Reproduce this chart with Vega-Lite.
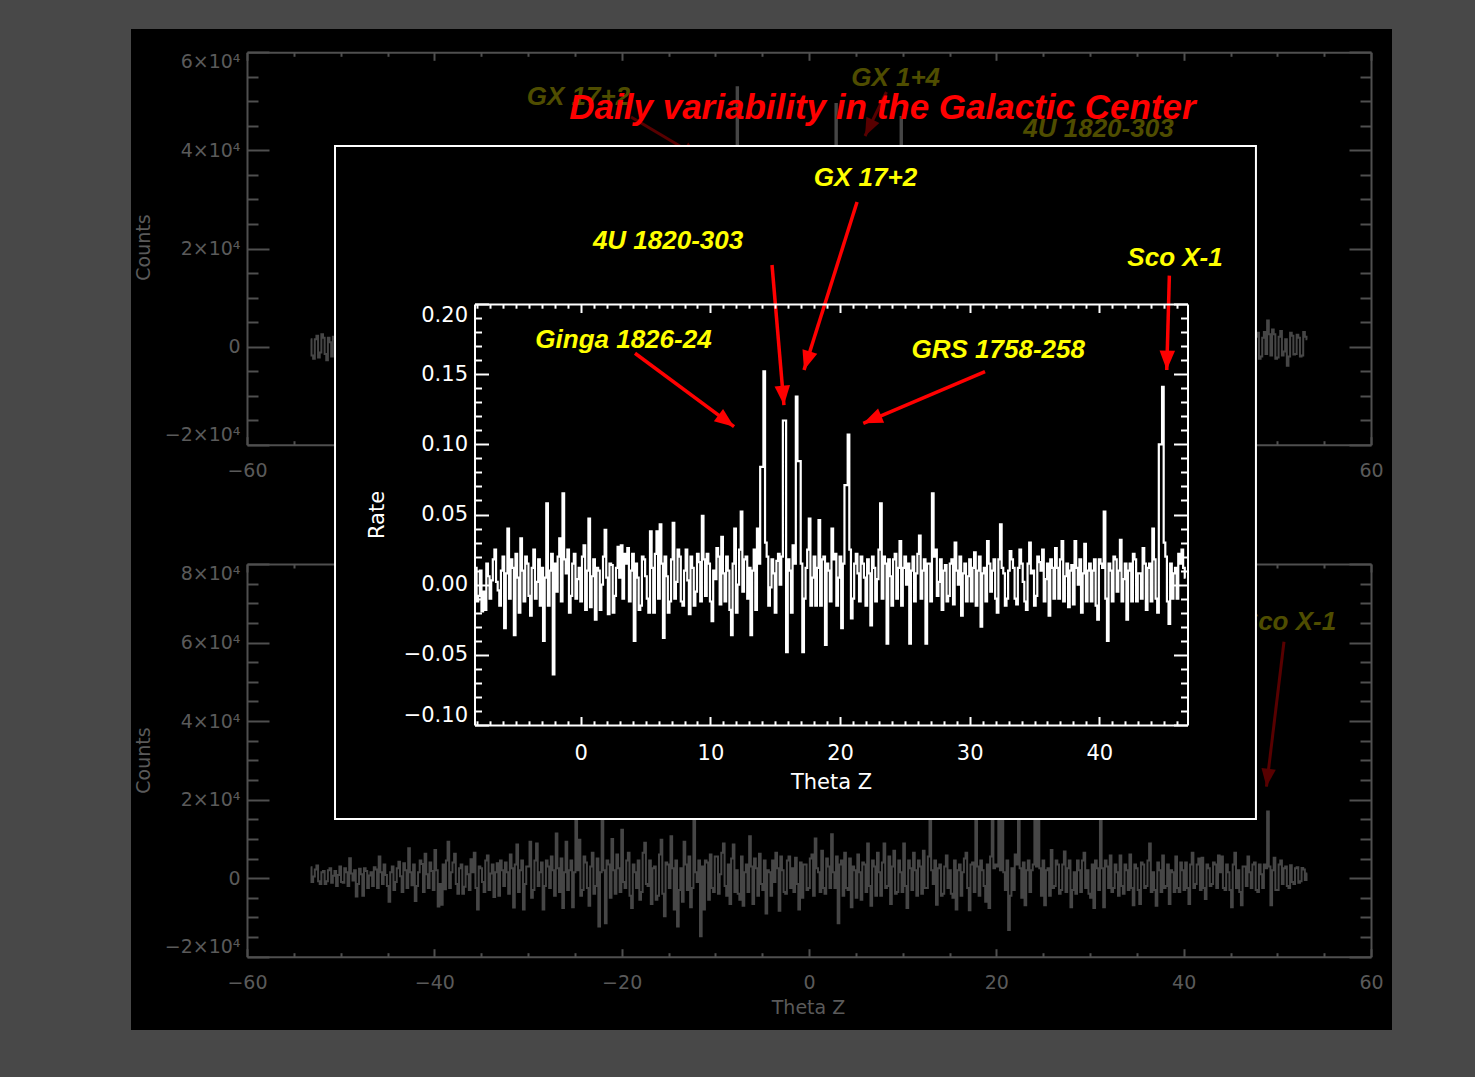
{
  "$schema": "https://vega.github.io/schema/vega-lite/v6.json",
  "width": 1261,
  "height": 1001,
  "autosize": {"type": "none"},
  "padding": {"left": 131, "top": 29, "right": 83, "bottom": 47},
  "background": "#484848",
  "config": {
    "view": {"fill": "#000000", "stroke": null},
    "axis": {"grid": false, "labelOverlap": false, "labelBound": false}
  },
  "datasets": {
    "upper": [
      {"t":-53.2,"c":1500},{"t":-52.85,"c":-2500},{"t":-52.5,"c":2200},{"t":-52.15,"c":-1200},{"t":-51.8,"c":1800},{"t":-51.45,"c":-2800},{"t":-51.1,"c":900},{"t":-50.75,"c":2000},{"t":-50.4,"c":-1500},
      {"t":-53.025,"c":-1800},{"t":-52.675,"c":1500},{"t":-52.325,"c":-2200},{"t":-51.975,"c":2500},{"t":-51.625,"c":-1500},{"t":-51.275,"c":1800},{"t":-50.925,"c":-2000},{"t":-50.575,"c":1500},
      {"t":-45,"c":800},{"t":-38,"c":-1200},{"t":-30,"c":1500},{"t":-20,"c":-2000},{"t":-12,"c":1000},{"t":-7.8,"c":-500},{"t":-7.65,"c":52860},{"t":-7.5,"c":800},{"t":-2,"c":-1500},
      {"t":2.75,"c":600},{"t":2.9,"c":49460},{"t":3.05,"c":-800},{"t":6,"c":1200},{"t":9.7,"c":-600},{"t":9.85,"c":46810},{"t":10,"c":900},{"t":15,"c":-1500},{"t":20,"c":2000},{"t":25,"c":-1000},{"t":30,"c":1200},{"t":35,"c":-800},{"t":40,"c":1500},{"t":45,"c":-1000},
      {"t":47.6,"c":-1500},{"t":47.95,"c":2800},{"t":48.3,"c":-2000},{"t":48.65,"c":3000},{"t":49.0,"c":5300},{"t":49.35,"c":-1800},{"t":49.7,"c":2500},{"t":50.05,"c":-2200},{"t":50.4,"c":3200},{"t":50.75,"c":-1000},
      {"t":51.1,"c":-3900},{"t":51.45,"c":2800},{"t":51.8,"c":-1600},{"t":52.15,"c":2400},{"t":52.5,"c":-2000},{"t":52.85,"c":3000},{"t":53.2,"c":1500},
      {"t":47.775,"c":2000},{"t":48.125,"c":-2500},{"t":48.475,"c":1800},{"t":48.825,"c":-1500},{"t":49.175,"c":2500},{"t":49.525,"c":3500},{"t":49.875,"c":-2500},{"t":50.225,"c":2000},
      {"t":50.575,"c":-1800},{"t":50.925,"c":1500},{"t":51.275,"c":-2000},{"t":51.625,"c":2200},{"t":51.975,"c":-1500},{"t":52.325,"c":1800},{"t":52.675,"c":-1800},{"t":53.025,"c":2000}
    ],
    "upperLabels": [
      {"t":-24.61,"c":49260,"label":"GX 17+2"},
      {"t":9.25,"c":53190,"label":"GX 1+4"},
      {"t":30.9,"c":42730,"label":"4U 1820-303"}
    ],
    "upperArrows": [
      {"t":-19.0,"c":46810,"t2":-11.64,"c2":38450},
      {"t":8.27,"c":51900,"t2":5.98,"c2":42930}
    ],
    "lower": [
      {"t":-53.2,"c":2800},{"t":-52.85,"c":400},{"t":-52.5,"c":3200},{"t":-52.15,"c":-1500},{"t":-51.8,"c":1800},{"t":-51.45,"c":-800},{"t":-51.1,"c":2500},{"t":-50.75,"c":600},{"t":-50.4,"c":-2000},{"t":-50.05,"c":3000},
      {"t":-49.7,"c":-1200},{"t":-49.35,"c":1500},{"t":-49.0,"c":5100},{"t":-48.65,"c":-600},{"t":-48.3,"c":-4700},{"t":-47.95,"c":2400},{"t":-47.6,"c":-4500},{"t":-47.25,"c":1800},{"t":-46.9,"c":700},{"t":-46.55,"c":-2000},
      {"t":-46.2,"c":2200},{"t":-45.85,"c":5500},{"t":-45.5,"c":-1500},{"t":-45.15,"c":800},{"t":-44.8,"c":-6000},{"t":-44.45,"c":3000},{"t":-44.1,"c":-1000},{"t":-43.75,"c":4200},{"t":-43.4,"c":-3500},{"t":-43.05,"c":2000},
      {"t":-42.7,"c":7600},{"t":-42.35,"c":-1800},{"t":-42.0,"c":-5800},{"t":-41.65,"c":1500},{"t":-41.3,"c":3600},{"t":-40.95,"c":6200},{"t":-40.6,"c":-2500},{"t":-40.25,"c":1800},{"t":-39.9,"c":7200},{"t":-39.55,"c":-7200},
      {"t":-39.2,"c":-6800},{"t":-38.85,"c":-2800},{"t":-38.5,"c":9300},{"t":-38.15,"c":1500},{"t":-37.8,"c":6200},{"t":-37.45,"c":-4000},{"t":-37.1,"c":3500},{"t":-36.75,"c":-2200},{"t":-36.4,"c":1000},{"t":-36.05,"c":4800},
      {"t":-35.7,"c":6500},{"t":-35.35,"c":-8000},{"t":-35.0,"c":2500},{"t":-34.65,"c":-3500},{"t":-34.3,"c":5800},{"t":-33.95,"c":1200},{"t":-33.6,"c":-4800},{"t":-33.25,"c":3800},{"t":-32.9,"c":4500},{"t":-32.55,"c":-2000},
      {"t":-32.2,"c":1500},{"t":-31.85,"c":6000},{"t":-31.5,"c":-7500},{"t":-31.15,"c":8600},{"t":-30.8,"c":2000},{"t":-30.45,"c":-8000},{"t":-30.1,"c":3000},{"t":-29.75,"c":9300},{"t":-29.4,"c":-3000},{"t":-29.05,"c":8800},
      {"t":-28.7,"c":1500},{"t":-28.35,"c":-8000},{"t":-28.0,"c":4500},{"t":-27.65,"c":-2500},{"t":-27.3,"c":2000},{"t":-26.95,"c":11400},{"t":-26.6,"c":-3500},{"t":-26.25,"c":-7600},{"t":-25.9,"c":9300},{"t":-25.55,"c":2000},
      {"t":-25.2,"c":-7400},{"t":-24.85,"c":25000},{"t":-24.5,"c":9800},{"t":-24.15,"c":-3000},{"t":-23.8,"c":4000},{"t":-23.45,"c":-7000},{"t":-23.1,"c":6500},{"t":-22.75,"c":-2000},{"t":-22.4,"c":-12300},{"t":-22.05,"c":24000},
      {"t":-21.7,"c":-11500},{"t":-21.35,"c":3500},{"t":-21.0,"c":10000},{"t":-20.65,"c":-4000},{"t":-20.3,"c":2500},{"t":-19.95,"c":12300},{"t":-19.6,"c":-2500},{"t":-19.25,"c":6500},{"t":-18.9,"c":-7600},{"t":-18.55,"c":1500},
      {"t":-18.2,"c":4500},{"t":-17.85,"c":-3500},{"t":-17.5,"c":9000},{"t":-17.15,"c":-2000},{"t":-16.8,"c":-6600},{"t":-16.45,"c":3000},{"t":-16.1,"c":-4500},{"t":-15.75,"c":9800},{"t":-15.4,"c":-9700},{"t":-15.05,"c":3500},
      {"t":-14.7,"c":10700},{"t":-14.35,"c":-8000},{"t":-14.0,"c":-12300},{"t":-13.65,"c":2500},{"t":-13.3,"c":9300},{"t":-12.95,"c":-3000},{"t":-12.6,"c":-7400},{"t":-12.25,"c":20000},{"t":-11.9,"c":-1000},{"t":-11.55,"c":-14800},
      {"t":-11.2,"c":-8000},{"t":-10.85,"c":4000},{"t":-10.5,"c":6000},{"t":-10.15,"c":-3500},{"t":-9.8,"c":5500},{"t":-9.45,"c":1000},{"t":-9.1,"c":8800},{"t":-8.75,"c":-4500},{"t":-8.4,"c":-6600},{"t":-8.05,"c":8600},
      {"t":-7.7,"c":2000},{"t":-7.35,"c":-5500},{"t":-7.0,"c":-7000},{"t":-6.65,"c":3500},{"t":-6.3,"c":10700},{"t":-5.95,"c":-6600},{"t":-5.6,"c":2500},{"t":-5.25,"c":6200},{"t":-4.9,"c":-3000},{"t":-4.55,"c":-9000},
      {"t":-4.2,"c":1500},{"t":-3.85,"c":4500},{"t":-3.5,"c":6500},{"t":-3.15,"c":-8300},{"t":-2.8,"c":2000},{"t":-2.45,"c":-4000},{"t":-2.1,"c":5500},{"t":-1.75,"c":2500},{"t":-1.4,"c":5200},{"t":-1.05,"c":-8000},
      {"t":-0.7,"c":-5000},{"t":-0.35,"c":3500},{"t":0.0,"c":-2500},{"t":0.35,"c":6000},{"t":0.7,"c":10100},{"t":1.05,"c":1500},{"t":1.4,"c":7000},{"t":1.75,"c":-4000},{"t":2.1,"c":3000},{"t":2.45,"c":11200},
      {"t":2.8,"c":-2500},{"t":3.15,"c":-11500},{"t":3.5,"c":4500},{"t":3.85,"c":6500},{"t":4.2,"c":-3000},{"t":4.55,"c":-7400},{"t":4.9,"c":2000},{"t":5.25,"c":6000},{"t":5.6,"c":-5500},{"t":5.95,"c":3500},
      {"t":6.3,"c":8800},{"t":6.65,"c":-7000},{"t":7.0,"c":3000},{"t":7.35,"c":6500},{"t":7.7,"c":-4500},{"t":8.05,"c":8800},{"t":8.4,"c":-2000},{"t":8.75,"c":-6600},{"t":9.1,"c":7000},{"t":9.45,"c":-3500},
      {"t":9.8,"c":1500},{"t":10.15,"c":8800},{"t":10.5,"c":-7600},{"t":10.85,"c":2500},{"t":11.2,"c":6500},{"t":11.55,"c":-4500},{"t":11.9,"c":3000},{"t":12.25,"c":7000},{"t":12.6,"c":-2500},{"t":12.95,"c":14700},
      {"t":13.3,"c":-1500},{"t":13.65,"c":-6800},{"t":14.0,"c":3500},{"t":14.35,"c":-4000},{"t":14.7,"c":5800},{"t":15.05,"c":2000},{"t":15.4,"c":-5000},{"t":15.75,"c":-8000},{"t":16.1,"c":3500},{"t":16.45,"c":1500},
      {"t":16.8,"c":6500},{"t":17.15,"c":-8200},{"t":17.5,"c":4000},{"t":17.85,"c":25000},{"t":18.2,"c":-4500},{"t":18.55,"c":2000},{"t":18.9,"c":-6000},{"t":19.25,"c":-7600},{"t":19.6,"c":22000},{"t":19.95,"c":3500},
      {"t":20.3,"c":24000},{"t":20.65,"c":26000},{"t":21.0,"c":-3000},{"t":21.35,"c":-13200},{"t":21.7,"c":2500},{"t":22.05,"c":6000},{"t":22.4,"c":20000},{"t":22.75,"c":-5000},{"t":23.1,"c":-6900},{"t":23.45,"c":4500},
      {"t":23.8,"c":2000},{"t":24.15,"c":22000},{"t":24.5,"c":18000},{"t":24.85,"c":-4500},{"t":25.2,"c":-6900},{"t":25.55,"c":2500},{"t":25.9,"c":7200},{"t":26.25,"c":-2000},{"t":26.6,"c":3500},{"t":26.95,"c":-3000},
      {"t":27.3,"c":6800},{"t":27.65,"c":2500},{"t":28.0,"c":-7400},{"t":28.35,"c":1500},{"t":28.7,"c":4500},{"t":29.05,"c":-3500},{"t":29.4,"c":6500},{"t":29.75,"c":2000},{"t":30.1,"c":-5000},{"t":30.45,"c":-7600},
      {"t":30.8,"c":2500},{"t":31.15,"c":15000},{"t":31.5,"c":-7400},{"t":31.85,"c":3000},{"t":32.2,"c":5800},{"t":32.55,"c":-2500},{"t":32.9,"c":1500},{"t":33.25,"c":5800},{"t":33.6,"c":-4000},{"t":33.95,"c":2000},
      {"t":34.3,"c":6000},{"t":34.65,"c":-6900},{"t":35.0,"c":2500},{"t":35.35,"c":-6600},{"t":35.7,"c":3500},{"t":36.05,"c":-2000},{"t":36.4,"c":8800},{"t":36.75,"c":1500},{"t":37.1,"c":-7000},{"t":37.45,"c":2000},
      {"t":37.8,"c":5800},{"t":38.15,"c":-2000},{"t":38.5,"c":-6600},{"t":38.85,"c":1500},{"t":39.2,"c":5500},{"t":39.55,"c":-3500},{"t":39.9,"c":2000},{"t":40.25,"c":4000},{"t":40.6,"c":-6600},{"t":40.95,"c":6500},
      {"t":41.3,"c":-1500},{"t":41.65,"c":5000},{"t":42.0,"c":5200},{"t":42.35,"c":-5300},{"t":42.7,"c":2500},{"t":43.05,"c":-1500},{"t":43.4,"c":3500},{"t":43.75,"c":5800},{"t":44.1,"c":5500},{"t":44.45,"c":-3000},
      {"t":44.8,"c":1500},{"t":45.15,"c":-7400},{"t":45.5,"c":6500},{"t":45.85,"c":2000},{"t":46.2,"c":-6900},{"t":46.55,"c":3000},{"t":46.9,"c":5500},{"t":47.25,"c":-2500},{"t":47.6,"c":4000},{"t":47.95,"c":-3500},
      {"t":48.3,"c":1000},{"t":48.65,"c":3500},{"t":49.0,"c":17000},{"t":49.35,"c":-6900},{"t":49.7,"c":5200},{"t":50.05,"c":-3000},{"t":50.4,"c":4500},{"t":50.75,"c":2500},{"t":51.1,"c":-2000},{"t":51.45,"c":3300},
      {"t":51.8,"c":-1500},{"t":52.15,"c":2800},{"t":52.5,"c":-800},{"t":52.85,"c":2200},{"t":53.2,"c":1200},
      {"t":-53.025,"c":-1000},{"t":-52.675,"c":2200},{"t":-52.325,"c":-800},{"t":-51.975,"c":1500},{"t":-51.625,"c":-1500},{"t":-51.275,"c":2000},{"t":-50.925,"c":-1200},{"t":-50.575,"c":1800},{"t":-50.225,"c":800},{"t":-49.875,"c":-1000},
      {"t":-49.525,"c":2500},{"t":-49.175,"c":-2000},{"t":-48.825,"c":1200},{"t":-48.475,"c":2000},{"t":-48.125,"c":-1500},{"t":-47.775,"c":1000},{"t":-47.425,"c":2500},{"t":-47.075,"c":-2500},{"t":-46.725,"c":1500},{"t":-46.375,"c":2800},
      {"t":-46.025,"c":-2500},{"t":-45.675,"c":1500},{"t":-45.325,"c":3500},{"t":-44.975,"c":-2000},{"t":-44.625,"c":1500},{"t":-44.275,"c":-3000},{"t":-43.925,"c":2500},{"t":-43.575,"c":500},{"t":-43.225,"c":3800},{"t":-42.875,"c":-2500},
      {"t":-42.525,"c":1500},{"t":-42.175,"c":3500},{"t":-41.825,"c":-2000},{"t":-41.475,"c":4500},{"t":-41.125,"c":-3500},{"t":-40.775,"c":1000},{"t":-40.425,"c":4000},{"t":-40.075,"c":-3000},{"t":-39.725,"c":2000},{"t":-39.375,"c":-1500},
      {"t":-39.025,"c":3500},{"t":-38.675,"c":4500},{"t":-38.325,"c":-2500},{"t":-37.975,"c":4000},{"t":-37.625,"c":-1500},{"t":-37.275,"c":2500},{"t":-36.925,"c":-4000},{"t":-36.575,"c":3000},{"t":-36.225,"c":-3000},{"t":-35.875,"c":1500},
      {"t":-35.525,"c":-2500},{"t":-35.175,"c":3000},{"t":-34.825,"c":-1000},{"t":-34.475,"c":4500},{"t":-34.125,"c":-3000},{"t":-33.775,"c":3500},{"t":-33.425,"c":1500},{"t":-33.075,"c":-4500},{"t":-32.725,"c":2000},{"t":-32.375,"c":4000},
      {"t":-32.025,"c":-4000},{"t":-31.675,"c":2500},{"t":-31.325,"c":3500},{"t":-30.975,"c":-3500},{"t":-30.625,"c":4500},{"t":-30.275,"c":-1500},{"t":-29.925,"c":3000},{"t":-29.575,"c":-5000},{"t":-29.225,"c":4500},{"t":-28.875,"c":-2000},
      {"t":-28.525,"c":4000},{"t":-28.175,"c":-2000},{"t":-27.825,"c":3000},{"t":-27.475,"c":5500},{"t":-27.125,"c":-4500},{"t":-26.775,"c":2500},{"t":-26.425,"c":5000},{"t":-26.075,"c":1500},{"t":-25.725,"c":-3000},{"t":-25.375,"c":4500},
      {"t":-25.025,"c":1500},{"t":-24.675,"c":2000},{"t":-24.325,"c":-4500},{"t":-23.975,"c":5500},{"t":-23.625,"c":-2500},{"t":-23.275,"c":3000},{"t":-22.925,"c":-4000},{"t":-22.575,"c":5000},{"t":-22.225,"c":1500},{"t":-21.875,"c":2000},
      {"t":-21.525,"c":4500},{"t":-21.175,"c":-5000},{"t":-20.825,"c":2000},{"t":-20.475,"c":6000},{"t":-20.125,"c":-3500},{"t":-19.775,"c":-1000},{"t":-19.425,"c":4500},{"t":-19.075,"c":-4500},{"t":-18.725,"c":3500},{"t":-18.375,"c":-2500},
      {"t":-18.025,"c":-5500},{"t":-17.675,"c":6500},{"t":-17.325,"c":-1500},{"t":-16.975,"c":4500},{"t":-16.625,"c":2500},{"t":-16.275,"c":-5500},{"t":-15.925,"c":6000},{"t":-15.575,"c":-4000},{"t":-15.225,"c":4000},{"t":-14.875,"c":-2500},
      {"t":-14.525,"c":2500},{"t":-14.175,"c":4500},{"t":-13.825,"c":-3000},{"t":-13.475,"c":-6000},{"t":-13.125,"c":3500},{"t":-12.775,"c":5500},{"t":-12.425,"c":-2500},{"t":-12.075,"c":1500},{"t":-11.725,"c":4500},{"t":-11.375,"c":3000},
      {"t":-11.025,"c":4500},{"t":-10.675,"c":-5500},{"t":-10.325,"c":-2500},{"t":-9.975,"c":5500},{"t":-9.625,"c":-4000},{"t":-9.275,"c":6500},{"t":-8.925,"c":-2000},{"t":-8.575,"c":3500},{"t":-8.225,"c":5000},{"t":-7.875,"c":-3500},
      {"t":-7.525,"c":-4000},{"t":-7.175,"c":5500},{"t":-6.825,"c":1500},{"t":-6.475,"c":-3500},{"t":-6.125,"c":3000},{"t":-5.775,"c":5000},{"t":-5.425,"c":-4500},{"t":-5.075,"c":-1500},{"t":-4.725,"c":4500},{"t":-4.375,"c":2000},
      {"t":-4.025,"c":-4500},{"t":-3.675,"c":-1000},{"t":-3.325,"c":2500},{"t":-2.975,"c":5500},{"t":-2.625,"c":-3500},{"t":-2.275,"c":4500},{"t":-1.925,"c":-2500},{"t":-1.575,"c":-3500},{"t":-1.225,"c":-1500},{"t":-0.875,"c":4000},
      {"t":-0.525,"c":3500},{"t":-0.175,"c":-3000},{"t":0.175,"c":5000},{"t":0.525,"c":-4500},{"t":0.875,"c":2500},{"t":1.225,"c":-3500},{"t":1.575,"c":-2500},{"t":1.925,"c":5000},{"t":2.275,"c":-2500},{"t":2.625,"c":1500},
      {"t":2.975,"c":5500},{"t":3.325,"c":3500},{"t":3.675,"c":-4500},{"t":4.025,"c":-2500},{"t":4.375,"c":5000},{"t":4.725,"c":3000},{"t":5.075,"c":-5000},{"t":5.425,"c":1500},{"t":5.775,"c":4000},{"t":6.125,"c":-3500},
      {"t":6.475,"c":-2000},{"t":6.825,"c":4500},{"t":7.175,"c":-4500},{"t":7.525,"c":1500},{"t":7.875,"c":4000},{"t":8.225,"c":-2500},{"t":8.575,"c":5500},{"t":8.925,"c":3000},{"t":9.275,"c":-4000},{"t":9.625,"c":4500},
      {"t":9.975,"c":-3500},{"t":10.325,"c":-2000},{"t":10.675,"c":4500},{"t":11.025,"c":-3000},{"t":11.375,"c":2000},{"t":11.725,"c":4500},{"t":12.075,"c":-4000},{"t":12.425,"c":-2500},{"t":12.775,"c":5500},{"t":13.125,"c":2000},
      {"t":13.475,"c":4500},{"t":13.825,"c":2500},{"t":14.175,"c":-4500},{"t":14.525,"c":3000},{"t":14.875,"c":-2500},{"t":15.225,"c":-4000},{"t":15.575,"c":4500},{"t":15.925,"c":2000},{"t":16.275,"c":-4500},{"t":16.625,"c":5000},
      {"t":16.975,"c":-2500},{"t":17.325,"c":3500},{"t":17.675,"c":-3500},{"t":18.025,"c":3000},{"t":18.375,"c":4500},{"t":18.725,"c":-2000},{"t":19.075,"c":3500},{"t":19.425,"c":5500},{"t":19.775,"c":2500},{"t":20.125,"c":3000},
      {"t":20.475,"c":2000},{"t":20.825,"c":1500},{"t":21.175,"c":4500},{"t":21.525,"c":-4500},{"t":21.875,"c":-3000},{"t":22.225,"c":3500},{"t":22.575,"c":2500},{"t":22.925,"c":4000},{"t":23.275,"c":2000},{"t":23.625,"c":-3500},
      {"t":23.975,"c":3500},{"t":24.325,"c":3000},{"t":24.675,"c":2500},{"t":25.025,"c":4500},{"t":25.375,"c":2000},{"t":25.725,"c":-4500},{"t":26.075,"c":-2500},{"t":26.425,"c":4500},{"t":26.775,"c":-4000},{"t":27.125,"c":3500},
      {"t":27.475,"c":-3500},{"t":27.825,"c":4500},{"t":28.175,"c":-3000},{"t":28.525,"c":-4000},{"t":28.875,"c":2000},{"t":29.225,"c":4500},{"t":29.575,"c":-2500},{"t":29.925,"c":-4000},{"t":30.275,"c":3500},{"t":30.625,"c":4500},
      {"t":30.975,"c":-3000},{"t":31.325,"c":2500},{"t":31.675,"c":4500},{"t":32.025,"c":-2500},{"t":32.375,"c":-3500},{"t":32.725,"c":3500},{"t":33.075,"c":-4500},{"t":33.425,"c":-2000},{"t":33.775,"c":3500},{"t":34.125,"c":-3000},
      {"t":34.475,"c":-2500},{"t":34.825,"c":3500},{"t":35.175,"c":-3000},{"t":35.525,"c":4000},{"t":35.875,"c":-2500},{"t":36.225,"c":4500},{"t":36.575,"c":-3500},{"t":36.925,"c":-3000},{"t":37.275,"c":4000},{"t":37.625,"c":-3500},
      {"t":37.975,"c":-2500},{"t":38.325,"c":3500},{"t":38.675,"c":2000},{"t":39.025,"c":-3500},{"t":39.375,"c":-2500},{"t":39.725,"c":4000},{"t":40.075,"c":-3000},{"t":40.425,"c":-2500},{"t":40.775,"c":3500},{"t":41.125,"c":-2500},
      {"t":41.475,"c":3500},{"t":41.825,"c":-3000},{"t":42.175,"c":-2500},{"t":42.525,"c":3500},{"t":42.875,"c":-2000},{"t":43.225,"c":4000},{"t":43.575,"c":-2500},{"t":43.925,"c":1500},{"t":44.275,"c":-2500},{"t":44.625,"c":3500},
      {"t":44.975,"c":-3000},{"t":45.325,"c":3500},{"t":45.675,"c":-2500},{"t":46.025,"c":-3500},{"t":46.375,"c":3000},{"t":46.725,"c":-2000},{"t":47.075,"c":1500},{"t":47.425,"c":3500},{"t":47.775,"c":-3000},{"t":48.125,"c":3500},
      {"t":48.475,"c":-2500},{"t":48.825,"c":2500},{"t":49.175,"c":3000},{"t":49.525,"c":2000},{"t":49.875,"c":-3000},{"t":50.225,"c":3500},{"t":50.575,"c":-1500},{"t":50.925,"c":3000},{"t":51.275,"c":-2500},{"t":51.625,"c":-1000},
      {"t":51.975,"c":2500},{"t":52.325,"c":-1200},{"t":52.675,"c":2600},{"t":53.025,"c":-500}
    ],
    "lowerLabels": [
      {"t":51.19,"c":63190,"label":"Sco X-1"}
    ],
    "lowerArrows": [
      {"t":50.71,"c":60210,"t2":48.84,"c2":23300}
    ],
    "inset": [
      {"t":-8.1,"r":0.012},{"t":-7.85,"r":-0.008},{"t":-7.6,"r":-0.019},{"t":-7.35,"r":-0.018},{"t":-7.1,"r":0.006},{"t":-6.85,"r":0.003},{"t":-6.6,"r":0.025},{"t":-6.35,"r":-0.004},{"t":-6.1,"r":0.010},{"t":-5.85,"r":-0.031},
      {"t":-5.6,"r":0.040},{"t":-5.35,"r":0.018},{"t":-5.1,"r":-0.036},{"t":-4.85,"r":0.005},{"t":-4.6,"r":0.033},{"t":-4.35,"r":-0.012},{"t":-4.1,"r":0.015},{"t":-3.85,"r":-0.022},{"t":-3.6,"r":0.025},{"t":-3.35,"r":0.002},
      {"t":-3.1,"r":-0.015},{"t":-2.85,"r":-0.040},{"t":-2.6,"r":0.058},{"t":-2.35,"r":0.010},{"t":-2.1,"r":-0.064},{"t":-1.85,"r":-0.005},{"t":-1.6,"r":0.033},{"t":-1.35,"r":0.065},{"t":-1.1,"r":0.008},{"t":-0.85,"r":-0.020},
      {"t":-0.6,"r":0.015},{"t":-0.35,"r":-0.010},{"t":-0.1,"r":0.012},{"t":0.15,"r":0.020},{"t":0.4,"r":-0.018},{"t":0.65,"r":0.047},{"t":0.9,"r":0.006},{"t":1.15,"r":-0.025},{"t":1.4,"r":0.010},{"t":1.65,"r":0.000},
      {"t":1.9,"r":0.039},{"t":2.15,"r":-0.021},{"t":2.4,"r":0.014},{"t":2.65,"r":-0.008},{"t":2.9,"r":0.027},{"t":3.15,"r":0.028},{"t":3.4,"r":0.022},{"t":3.65,"r":0.026},{"t":3.9,"r":0.010},{"t":4.15,"r":-0.040},
      {"t":4.4,"r":0.005},{"t":4.65,"r":-0.015},{"t":4.9,"r":0.018},{"t":5.15,"r":-0.010},{"t":5.4,"r":0.038},{"t":5.65,"r":-0.020},{"t":5.9,"r":0.038},{"t":6.15,"r":0.043},{"t":6.4,"r":-0.038},{"t":6.65,"r":0.006},
      {"t":6.9,"r":-0.012},{"t":7.15,"r":0.044},{"t":7.4,"r":0.002},{"t":7.65,"r":0.020},{"t":7.9,"r":-0.015},{"t":8.15,"r":0.025},{"t":8.4,"r":-0.021},{"t":8.65,"r":0.012},{"t":8.9,"r":-0.005},{"t":9.15,"r":0.016},
      {"t":9.4,"r":0.049},{"t":9.65,"r":-0.008},{"t":9.9,"r":0.015},{"t":10.15,"r":-0.026},{"t":10.4,"r":0.004},{"t":10.65,"r":0.020},{"t":10.9,"r":0.034},{"t":11.15,"r":-0.012},{"t":11.4,"r":0.010},{"t":11.65,"r":-0.036},
      {"t":11.9,"r":0.040},{"t":12.15,"r":0.000},{"t":12.4,"r":0.052},{"t":12.65,"r":0.018},{"t":12.9,"r":-0.010},{"t":13.15,"r":-0.036},{"t":13.4,"r":0.025},{"t":13.65,"r":0.040},{"t":13.9,"r":0.084},{"t":14.15,"r":0.152},
      {"t":14.4,"r":0.020},{"t":14.65,"r":-0.002},{"t":14.9,"r":0.008},{"t":15.15,"r":0.017},{"t":15.4,"r":0.000},{"t":15.65,"r":0.117},{"t":15.9,"r":-0.048},{"t":16.15,"r":0.010},{"t":16.4,"r":0.028},{"t":16.65,"r":0.134},
      {"t":16.9,"r":0.088},{"t":17.15,"r":-0.048},{"t":17.4,"r":0.012},{"t":17.65,"r":0.047},{"t":17.9,"r":0.005},{"t":18.15,"r":-0.015},{"t":18.4,"r":0.046},{"t":18.65,"r":0.018},{"t":18.9,"r":-0.043},{"t":19.15,"r":0.010},
      {"t":19.4,"r":0.040},{"t":19.65,"r":0.022},{"t":19.9,"r":0.005},{"t":20.15,"r":-0.031},{"t":20.4,"r":0.071},{"t":20.65,"r":0.107},{"t":20.9,"r":-0.024},{"t":21.15,"r":0.015},{"t":21.4,"r":0.008},{"t":21.65,"r":0.020},
      {"t":21.9,"r":0.005},{"t":22.15,"r":0.018},{"t":22.4,"r":-0.029},{"t":22.65,"r":0.012},{"t":22.9,"r":0.004},{"t":23.15,"r":0.058},{"t":23.4,"r":0.020},{"t":23.65,"r":-0.042},{"t":23.9,"r":0.006},{"t":24.15,"r":0.018},
      {"t":24.4,"r":-0.010},{"t":24.65,"r":0.031},{"t":24.9,"r":0.012},{"t":25.15,"r":0.000},{"t":25.4,"r":-0.042},{"t":25.65,"r":0.020},{"t":25.9,"r":0.008},{"t":26.15,"r":0.035},{"t":26.4,"r":0.010},{"t":26.65,"r":-0.042},
      {"t":26.9,"r":0.015},{"t":27.15,"r":0.065},{"t":27.4,"r":0.025},{"t":27.65,"r":0.002},{"t":27.9,"r":-0.018},{"t":28.15,"r":0.014},{"t":28.4,"r":-0.008},{"t":28.65,"r":0.018},{"t":28.9,"r":0.030},{"t":29.15,"r":0.000},
      {"t":29.4,"r":-0.022},{"t":29.65,"r":0.015},{"t":29.9,"r":0.006},{"t":30.15,"r":-0.012},{"t":30.4,"r":0.023},{"t":30.65,"r":0.010},{"t":30.9,"r":-0.030},{"t":31.15,"r":0.012},{"t":31.4,"r":0.031},{"t":31.65,"r":-0.005},
      {"t":31.9,"r":0.018},{"t":32.15,"r":-0.020},{"t":32.4,"r":0.043},{"t":32.65,"r":0.008},{"t":32.9,"r":-0.010},{"t":33.15,"r":0.024},{"t":33.4,"r":0.012},{"t":33.65,"r":-0.014},{"t":33.9,"r":0.025},{"t":34.15,"r":0.002},
      {"t":34.4,"r":-0.018},{"t":34.65,"r":0.030},{"t":34.9,"r":0.010},{"t":35.15,"r":-0.008},{"t":35.4,"r":0.016},{"t":35.65,"r":0.025},{"t":35.9,"r":0.004},{"t":36.15,"r":-0.022},{"t":36.4,"r":0.012},{"t":36.65,"r":0.026},
      {"t":36.9,"r":-0.010},{"t":37.15,"r":0.031},{"t":37.4,"r":0.006},{"t":37.65,"r":-0.016},{"t":37.9,"r":0.014},{"t":38.15,"r":0.031},{"t":38.4,"r":0.000},{"t":38.65,"r":-0.020},{"t":38.9,"r":0.029},{"t":39.15,"r":0.010},
      {"t":39.4,"r":-0.012},{"t":39.65,"r":0.018},{"t":39.9,"r":-0.025},{"t":40.15,"r":0.015},{"t":40.4,"r":0.052},{"t":40.65,"r":-0.040},{"t":40.9,"r":0.010},{"t":41.15,"r":0.020},{"t":41.4,"r":-0.005},{"t":41.65,"r":0.032},
      {"t":41.9,"r":0.004},{"t":42.15,"r":-0.025},{"t":42.4,"r":0.015},{"t":42.65,"r":0.022},{"t":42.9,"r":-0.012},{"t":43.15,"r":0.008},{"t":43.4,"r":0.026},{"t":43.65,"r":-0.018},{"t":43.9,"r":0.015},{"t":44.15,"r":0.040},
      {"t":44.4,"r":-0.010},{"t":44.65,"r":0.100},{"t":44.9,"r":0.141},{"t":45.15,"r":0.020},{"t":45.4,"r":-0.028},{"t":45.65,"r":-0.010},{"t":45.9,"r":0.012},{"t":46.15,"r":0.022},{"t":46.4,"r":0.025},{"t":46.65,"r":0.005},
      {"t":-7.975,"r":-0.012},{"t":-7.725,"r":0.010},{"t":-7.475,"r":-0.005},{"t":-7.225,"r":0.015},{"t":-6.975,"r":-0.010},{"t":-6.725,"r":0.018},{"t":-6.475,"r":0.002},{"t":-6.225,"r":-0.015},{"t":-5.975,"r":0.020},{"t":-5.725,"r":0.008},
      {"t":-5.475,"r":-0.010},{"t":-5.225,"r":0.012},{"t":-4.975,"r":0.022},{"t":-4.725,"r":-0.020},{"t":-4.475,"r":0.010},{"t":-4.225,"r":0.020},{"t":-3.975,"r":-0.008},{"t":-3.725,"r":0.012},{"t":-3.475,"r":-0.010},{"t":-3.225,"r":0.018},
      {"t":-2.975,"r":0.012},{"t":-2.725,"r":0.005},{"t":-2.475,"r":-0.015},{"t":-2.225,"r":0.022},{"t":-1.975,"r":0.015},{"t":-1.725,"r":0.020},{"t":-1.475,"r":-0.012},{"t":-1.225,"r":0.018},{"t":-0.975,"r":0.025},{"t":-0.725,"r":-0.008},
      {"t":-0.475,"r":0.022},{"t":-0.225,"r":0.004},{"t":0.025,"r":-0.012},{"t":0.275,"r":0.028},{"t":0.525,"r":0.010},{"t":0.775,"r":-0.016},{"t":1.025,"r":0.018},{"t":1.275,"r":0.012},{"t":1.525,"r":-0.018},{"t":1.775,"r":0.020},
      {"t":2.025,"r":0.005},{"t":2.275,"r":0.015},{"t":2.525,"r":-0.020},{"t":2.775,"r":0.012},{"t":3.025,"r":0.005},{"t":3.275,"r":-0.010},{"t":3.525,"r":0.015},{"t":3.775,"r":-0.012},{"t":4.025,"r":0.022},{"t":4.275,"r":0.015},
      {"t":4.525,"r":-0.018},{"t":4.775,"r":0.020},{"t":5.025,"r":0.006},{"t":5.275,"r":-0.020},{"t":5.525,"r":0.012},{"t":5.775,"r":0.022},{"t":6.025,"r":-0.010},{"t":6.275,"r":0.015},{"t":6.525,"r":0.020},{"t":6.775,"r":-0.020},
      {"t":7.025,"r":0.018},{"t":7.275,"r":-0.010},{"t":7.525,"r":0.025},{"t":7.775,"r":-0.012},{"t":8.025,"r":0.010},{"t":8.275,"r":0.003},{"t":8.525,"r":0.020},{"t":8.775,"r":-0.015},{"t":9.025,"r":0.022},{"t":9.275,"r":-0.012},
      {"t":9.525,"r":0.018},{"t":9.775,"r":0.022},{"t":10.025,"r":-0.012},{"t":10.275,"r":0.010},{"t":10.525,"r":0.026},{"t":10.775,"r":-0.014},{"t":11.025,"r":0.008},{"t":11.275,"r":0.020},{"t":11.525,"r":-0.018},{"t":11.775,"r":0.015},
      {"t":12.025,"r":-0.020},{"t":12.275,"r":0.025},{"t":12.525,"r":-0.005},{"t":12.775,"r":0.020},{"t":13.025,"r":0.012},{"t":13.275,"r":0.010},{"t":13.525,"r":-0.018},{"t":13.775,"r":0.015},{"t":14.025,"r":0.084},{"t":14.275,"r":0.030},
      {"t":14.525,"r":-0.015},{"t":14.775,"r":0.018},{"t":15.025,"r":-0.020},{"t":15.275,"r":0.022},{"t":15.525,"r":0.020},{"t":15.775,"r":0.117},{"t":16.025,"r":0.018},{"t":16.275,"r":-0.020},{"t":16.525,"r":0.015},{"t":16.775,"r":0.088},
      {"t":17.025,"r":0.015},{"t":17.275,"r":-0.010},{"t":17.525,"r":0.025},{"t":17.775,"r":-0.015},{"t":18.025,"r":0.020},{"t":18.275,"r":0.012},{"t":18.525,"r":-0.015},{"t":18.775,"r":0.020},{"t":19.025,"r":0.015},{"t":19.275,"r":-0.012},
      {"t":19.525,"r":0.018},{"t":19.775,"r":-0.015},{"t":20.025,"r":0.020},{"t":20.275,"r":0.015},{"t":20.525,"r":0.071},{"t":20.775,"r":0.025},{"t":21.025,"r":-0.010},{"t":21.275,"r":0.022},{"t":21.525,"r":-0.012},{"t":21.775,"r":0.015},
      {"t":22.025,"r":-0.015},{"t":22.275,"r":0.008},{"t":22.525,"r":0.020},{"t":22.775,"r":-0.012},{"t":23.025,"r":0.025},{"t":23.275,"r":-0.010},{"t":23.525,"r":0.015},{"t":23.775,"r":0.018},{"t":24.025,"r":-0.015},{"t":24.275,"r":0.022},
      {"t":24.525,"r":0.012},{"t":24.775,"r":-0.015},{"t":25.025,"r":0.020},{"t":25.275,"r":0.015},{"t":25.525,"r":0.010},{"t":25.775,"r":-0.012},{"t":26.025,"r":0.022},{"t":26.275,"r":-0.010},{"t":26.525,"r":0.018},{"t":26.775,"r":0.015},
      {"t":27.025,"r":-0.012},{"t":27.275,"r":0.020},{"t":27.525,"r":-0.008},{"t":27.775,"r":0.018},{"t":28.025,"r":0.010},{"t":28.275,"r":-0.012},{"t":28.525,"r":0.015},{"t":28.775,"r":-0.014},{"t":29.025,"r":0.010},{"t":29.275,"r":0.020},
      {"t":29.525,"r":0.008},{"t":29.775,"r":-0.012},{"t":30.025,"r":0.018},{"t":30.275,"r":0.012},{"t":30.525,"r":-0.015},{"t":30.775,"r":0.020},{"t":31.025,"r":0.008},{"t":31.275,"r":-0.012},{"t":31.525,"r":0.015},{"t":31.775,"r":0.010},
      {"t":32.025,"r":-0.010},{"t":32.275,"r":0.018},{"t":32.525,"r":0.012},{"t":32.775,"r":-0.015},{"t":33.025,"r":0.010},{"t":33.275,"r":0.018},{"t":33.525,"r":-0.010},{"t":33.775,"r":0.012},{"t":34.025,"r":0.015},{"t":34.275,"r":-0.012},
      {"t":34.525,"r":0.015},{"t":34.775,"r":0.008},{"t":35.025,"r":-0.015},{"t":35.275,"r":0.020},{"t":35.525,"r":0.010},{"t":35.775,"r":-0.012},{"t":36.025,"r":0.015},{"t":36.275,"r":0.018},{"t":36.525,"r":-0.010},{"t":36.775,"r":0.012},
      {"t":37.025,"r":0.018},{"t":37.275,"r":-0.012},{"t":37.525,"r":0.015},{"t":37.775,"r":0.010},{"t":38.025,"r":-0.014},{"t":38.275,"r":0.012},{"t":38.525,"r":0.018},{"t":38.775,"r":0.008},{"t":39.025,"r":-0.012},{"t":39.275,"r":0.015},
      {"t":39.525,"r":0.010},{"t":39.775,"r":-0.015},{"t":40.025,"r":0.018},{"t":40.275,"r":0.012},{"t":40.525,"r":-0.010},{"t":40.775,"r":0.015},{"t":41.025,"r":-0.012},{"t":41.275,"r":0.018},{"t":41.525,"r":0.010},{"t":41.775,"r":-0.012},
      {"t":42.025,"r":0.015},{"t":42.275,"r":0.010},{"t":42.525,"r":-0.012},{"t":42.775,"r":0.018},{"t":43.025,"r":0.008},{"t":43.275,"r":-0.010},{"t":43.525,"r":0.015},{"t":43.775,"r":0.012},{"t":44.025,"r":-0.012},{"t":44.275,"r":0.018},
      {"t":44.525,"r":-0.020},{"t":44.775,"r":0.100},{"t":45.025,"r":0.030},{"t":45.275,"r":-0.012},{"t":45.525,"r":0.015},{"t":45.775,"r":0.008},{"t":46.025,"r":-0.010},{"t":46.275,"r":0.015},{"t":46.525,"r":0.012}
    ],
    "insetFrame": [
      {"t":-18.96,"t2":52.08,"r":-0.167,"r2":0.3126}
    ],
    "insetTitle": [
      {"t":23.27,"r":0.3315,"label":"Daily variability in the Galactic Center"}
    ],
    "insetLabels": [
      {"t":21.96,"r":0.2841,"label":"GX 17+2"},
      {"t":6.73,"r":0.2392,"label":"4U 1820-303"},
      {"t":3.29,"r":0.1684,"label":"Ginga 1826-24"},
      {"t":32.2,"r":0.1613,"label":"GRS 1758-258"},
      {"t":45.84,"r":0.2273,"label":"Sco X-1"}
    ],
    "insetArrows": [
      {"t":4.18,"r":0.1649,"t2":11.82,"r2":0.1126},
      {"t":14.75,"r":0.2278,"t2":15.67,"r2":0.128},
      {"t":21.31,"r":0.2727,"t2":17.22,"r2":0.153},
      {"t":31.18,"r":0.1518,"t2":21.79,"r2":0.115},
      {"t":45.4,"r":0.2202,"t2":45.2,"r2":0.153}
    ]
  },
  "layer": [
    {
      "data": {"name": "upper"},
      "mark": {"type": "point", "opacity": 0},
      "encoding": {
        "x": {"field": "t", "type": "quantitative",
          "scale": {"domain": [-60, 60], "range": [116, 1240], "nice": false, "zero": false},
          "axis": {"orient": "bottom", "offset": -585.3,
            "values": [-60,-55,-50,-45,-40,-35,-30,-25,-20,-15,-10,-5,0,5,10,15,20,25,30,35,40,45,50,55,60],
            "tickSize": {"condition": {"test": "datum.value % 20 === 0", "value": -8}, "value": -4},
            "labelExpr": "datum.value % 20 === 0 ? datum.label : ''",
            "labelPadding": 24.5, "labelFlush": false,
            "labelFont": "DejaVu Sans", "labelFontSize": 19, "labelColor": "#5a5a5a",
            "domainColor": "#4f4f4f", "domainWidth": 2, "tickColor": "#4f4f4f", "tickWidth": 2,
            "title": "Theta Z", "titleFont": "DejaVu Sans", "titleFontSize": 19, "titleFontWeight": "normal", "titleColor": "#5a5a5a",
            "titleBaseline": "alphabetic", "titleX": 677, "titleY": 57, "zindex": 0}},
        "y": {"field": "c", "type": "quantitative",
          "scale": {"domain": [-20000, 60000], "range": [415.7, 23.3], "nice": false, "zero": false},
          "axis": {"orient": "left", "offset": -116,
            "values": [-20000,-15000,-10000,-5000,0,5000,10000,15000,20000,25000,30000,35000,40000,45000,50000,55000,60000],
            "tickSize": {"condition": {"test": "datum.value % 20000 === 0", "value": -22}, "value": -11},
            "labelExpr": "datum.value === 0 ? '0' : (datum.value % 20000 === 0 ? (datum.value < 0 ? '\u2212' : '') + abs(datum.value / 10000) + '\u00d710\u2074' : '')",
            "labelPadding": 29, "labelFlush": true,
            "labelFont": "DejaVu Sans", "labelFontSize": 19, "labelColor": "#5a5a5a",
            "domainColor": "#4f4f4f", "domainWidth": 2, "tickColor": "#4f4f4f", "tickWidth": 2,
            "title": "Counts", "titleFont": "DejaVu Sans", "titleFontSize": 19, "titleFontWeight": "normal", "titleColor": "#5a5a5a",
            "titleBaseline": "alphabetic", "titleX": -98, "titleY": 218, "zindex": 0}}
      }
    },
    {
      "data": {"name": "upper"},
      "mark": {"type": "point", "opacity": 0},
      "encoding": {
        "x": {"field": "t", "type": "quantitative",
          "scale": {"domain": [-60, 60], "range": [116, 1240], "nice": false, "zero": false},
          "axis": {"orient": "top", "offset": -23.3,
            "values": [-60,-55,-50,-45,-40,-35,-30,-25,-20,-15,-10,-5,0,5,10,15,20,25,30,35,40,45,50,55,60],
            "tickSize": {"condition": {"test": "datum.value % 20 === 0", "value": -8}, "value": -4},
            "labels": false, "title": null,
            "domainColor": "#4f4f4f", "domainWidth": 2, "tickColor": "#4f4f4f", "tickWidth": 2, "zindex": 0}},
        "y": {"field": "c", "type": "quantitative",
          "scale": {"domain": [-20000, 60000], "range": [415.7, 23.3], "nice": false, "zero": false},
          "axis": {"orient": "right", "offset": -21,
            "values": [-20000,-15000,-10000,-5000,0,5000,10000,15000,20000,25000,30000,35000,40000,45000,50000,55000,60000],
            "tickSize": {"condition": {"test": "datum.value % 20000 === 0", "value": -22}, "value": -11},
            "labels": false, "title": null,
            "domainColor": "#4f4f4f", "domainWidth": 2, "tickColor": "#4f4f4f", "tickWidth": 2, "zindex": 0}}
      }
    },
    {
      "layer": [
        {
          "data": {"name": "upper"},
          "mark": {"type": "line", "interpolate": "step", "color": "#464646", "strokeWidth": 2},
          "encoding": {
            "x": {"field": "t", "type": "quantitative", "scale": {"domain": [-60, 60], "range": [116, 1240], "nice": false, "zero": false}, "axis": null},
            "y": {"field": "c", "type": "quantitative", "scale": {"domain": [-20000, 60000], "range": [415.7, 23.3], "nice": false, "zero": false}, "axis": null}
          }
        },
        {
          "data": {"name": "upperArrows"},
          "mark": {"type": "rule", "color": "#580000", "strokeWidth": 3},
          "encoding": {
            "x": {"field": "t", "type": "quantitative", "scale": {"domain": [-60, 60], "range": [116, 1240], "nice": false, "zero": false}, "axis": null},
            "y": {"field": "c", "type": "quantitative", "scale": {"domain": [-20000, 60000], "range": [415.7, 23.3], "nice": false, "zero": false}, "axis": null},
            "x2": {"field": "t2"},
            "y2": {"field": "c2"}
          }
        },
        {
          "data": {"name": "upperArrows"},
          "transform": [{"calculate": "atan2((datum.t2 - datum.t) * 9.367, (datum.c2 - datum.c) * 0.004905) * 180 / PI", "as": "heading"}],
          "mark": {"type": "point", "shape": "M0,0L-0.4,1L0.4,1Z", "filled": true, "color": "#580000", "size": 1300, "opacity": 1},
          "encoding": {
            "x": {"field": "t2", "type": "quantitative", "scale": {"domain": [-60, 60], "range": [116, 1240], "nice": false, "zero": false}, "axis": null},
            "y": {"field": "c2", "type": "quantitative", "scale": {"domain": [-20000, 60000], "range": [415.7, 23.3], "nice": false, "zero": false}, "axis": null},
            "angle": {"field": "heading", "type": "quantitative", "scale": null}
          }
        },
        {
          "data": {"name": "upperLabels"},
          "mark": {"type": "text", "font": "Liberation Sans", "fontWeight": "bold", "fontStyle": "italic", "fontSize": 26, "color": "#4f4d00", "align": "center", "baseline": "alphabetic"},
          "encoding": {
            "x": {"field": "t", "type": "quantitative", "scale": {"domain": [-60, 60], "range": [116, 1240], "nice": false, "zero": false}, "axis": null},
            "y": {"field": "c", "type": "quantitative", "scale": {"domain": [-20000, 60000], "range": [415.7, 23.3], "nice": false, "zero": false}, "axis": null},
            "text": {"field": "label"}
          }
        }
      ]
    },
    {
      "data": {"name": "lower"},
      "mark": {"type": "point", "opacity": 0},
      "encoding": {
        "x": {"field": "t", "type": "quantitative",
          "scale": {"domain": [-60, 60], "range": [116, 1240], "nice": false, "zero": false},
          "axis": {"orient": "bottom", "offset": -73.3,
            "values": [-60,-55,-50,-45,-40,-35,-30,-25,-20,-15,-10,-5,0,5,10,15,20,25,30,35,40,45,50,55,60],
            "tickSize": {"condition": {"test": "datum.value % 20 === 0", "value": -8}, "value": -4},
            "labelExpr": "datum.value % 20 === 0 ? datum.label : ''",
            "labelPadding": 24.5, "labelFlush": false,
            "labelFont": "DejaVu Sans", "labelFontSize": 19, "labelColor": "#5a5a5a",
            "domainColor": "#4f4f4f", "domainWidth": 2, "tickColor": "#4f4f4f", "tickWidth": 2,
            "title": "Theta Z", "titleFont": "DejaVu Sans", "titleFontSize": 19, "titleFontWeight": "normal", "titleColor": "#5a5a5a",
            "titleBaseline": "alphabetic", "titleX": 677, "titleY": 57, "zindex": 0}},
        "y": {"field": "c", "type": "quantitative",
          "scale": {"domain": [-20000, 80000], "range": [927.7, 535], "nice": false, "zero": false},
          "axis": {"orient": "left", "offset": -116,
            "values": [-20000,-15000,-10000,-5000,0,5000,10000,15000,20000,25000,30000,35000,40000,45000,50000,55000,60000,65000,70000,75000,80000],
            "tickSize": {"condition": {"test": "datum.value % 20000 === 0", "value": -22}, "value": -11},
            "labelExpr": "datum.value === 0 ? '0' : (datum.value % 20000 === 0 ? (datum.value < 0 ? '\u2212' : '') + abs(datum.value / 10000) + '\u00d710\u2074' : '')",
            "labelPadding": 29, "labelFlush": true,
            "labelFont": "DejaVu Sans", "labelFontSize": 19, "labelColor": "#5a5a5a",
            "domainColor": "#4f4f4f", "domainWidth": 2, "tickColor": "#4f4f4f", "tickWidth": 2,
            "title": "Counts", "titleFont": "DejaVu Sans", "titleFontSize": 19, "titleFontWeight": "normal", "titleColor": "#5a5a5a",
            "titleBaseline": "alphabetic", "titleX": -98, "titleY": 731, "zindex": 0}}
      }
    },
    {
      "data": {"name": "lower"},
      "mark": {"type": "point", "opacity": 0},
      "encoding": {
        "x": {"field": "t", "type": "quantitative",
          "scale": {"domain": [-60, 60], "range": [116, 1240], "nice": false, "zero": false},
          "axis": {"orient": "top", "offset": -535,
            "values": [-60,-55,-50,-45,-40,-35,-30,-25,-20,-15,-10,-5,0,5,10,15,20,25,30,35,40,45,50,55,60],
            "tickSize": {"condition": {"test": "datum.value % 20 === 0", "value": -8}, "value": -4},
            "labels": false, "title": null,
            "domainColor": "#4f4f4f", "domainWidth": 2, "tickColor": "#4f4f4f", "tickWidth": 2, "zindex": 0}},
        "y": {"field": "c", "type": "quantitative",
          "scale": {"domain": [-20000, 80000], "range": [927.7, 535], "nice": false, "zero": false},
          "axis": {"orient": "right", "offset": -21,
            "values": [-20000,-15000,-10000,-5000,0,5000,10000,15000,20000,25000,30000,35000,40000,45000,50000,55000,60000,65000,70000,75000,80000],
            "tickSize": {"condition": {"test": "datum.value % 20000 === 0", "value": -22}, "value": -11},
            "labels": false, "title": null,
            "domainColor": "#4f4f4f", "domainWidth": 2, "tickColor": "#4f4f4f", "tickWidth": 2, "zindex": 0}}
      }
    },
    {
      "layer": [
        {
          "data": {"name": "lower"},
          "mark": {"type": "line", "interpolate": "step", "color": "#464646", "strokeWidth": 2},
          "encoding": {
            "x": {"field": "t", "type": "quantitative", "scale": {"domain": [-60, 60], "range": [116, 1240], "nice": false, "zero": false}, "axis": null},
            "y": {"field": "c", "type": "quantitative", "scale": {"domain": [-20000, 80000], "range": [927.7, 535], "nice": false, "zero": false}, "axis": null}
          }
        },
        {
          "data": {"name": "lowerArrows"},
          "mark": {"type": "rule", "color": "#580000", "strokeWidth": 3},
          "encoding": {
            "x": {"field": "t", "type": "quantitative", "scale": {"domain": [-60, 60], "range": [116, 1240], "nice": false, "zero": false}, "axis": null},
            "y": {"field": "c", "type": "quantitative", "scale": {"domain": [-20000, 80000], "range": [927.7, 535], "nice": false, "zero": false}, "axis": null},
            "x2": {"field": "t2"},
            "y2": {"field": "c2"}
          }
        },
        {
          "data": {"name": "lowerArrows"},
          "transform": [{"calculate": "atan2((datum.t2 - datum.t) * 9.367, (datum.c2 - datum.c) * 0.003927) * 180 / PI", "as": "heading"}],
          "mark": {"type": "point", "shape": "M0,0L-0.4,1L0.4,1Z", "filled": true, "color": "#580000", "size": 1300, "opacity": 1},
          "encoding": {
            "x": {"field": "t2", "type": "quantitative", "scale": {"domain": [-60, 60], "range": [116, 1240], "nice": false, "zero": false}, "axis": null},
            "y": {"field": "c2", "type": "quantitative", "scale": {"domain": [-20000, 80000], "range": [927.7, 535], "nice": false, "zero": false}, "axis": null},
            "angle": {"field": "heading", "type": "quantitative", "scale": null}
          }
        },
        {
          "data": {"name": "lowerLabels"},
          "mark": {"type": "text", "font": "Liberation Sans", "fontWeight": "bold", "fontStyle": "italic", "fontSize": 26, "color": "#4f4d00", "align": "center", "baseline": "alphabetic"},
          "encoding": {
            "x": {"field": "t", "type": "quantitative", "scale": {"domain": [-60, 60], "range": [116, 1240], "nice": false, "zero": false}, "axis": null},
            "y": {"field": "c", "type": "quantitative", "scale": {"domain": [-20000, 80000], "range": [927.7, 535], "nice": false, "zero": false}, "axis": null},
            "text": {"field": "label"}
          }
        }
      ]
    },
    {
      "layer": [
        {
          "data": {"name": "insetFrame"},
          "mark": {"type": "rect", "fill": "#000000", "stroke": "#ffffff", "strokeWidth": 2},
          "encoding": {
            "x": {"field": "t", "type": "quantitative", "scale": {"domain": [-8.2, 46.8], "range": [343.5, 1056.5], "nice": false, "zero": false}, "axis": null},
            "x2": {"field": "t2"},
            "y": {"field": "r", "type": "quantitative", "scale": {"domain": [-0.1, 0.2], "range": [696, 275], "nice": false, "zero": false}, "axis": null},
            "y2": {"field": "r2"}
          }
        },
        {
          "data": {"name": "inset"},
          "mark": {"type": "line", "interpolate": "step", "color": "#ffffff", "strokeWidth": 2.2},
          "encoding": {
            "x": {"field": "t", "type": "quantitative", "scale": {"domain": [-8.2, 46.8], "range": [343.5, 1056.5], "nice": false, "zero": false}, "axis": null},
            "y": {"field": "r", "type": "quantitative", "scale": {"domain": [-0.1, 0.2], "range": [696, 275], "nice": false, "zero": false}, "axis": null}
          }
        },
        {
          "data": {"name": "insetArrows"},
          "mark": {"type": "rule", "color": "#ff0000", "strokeWidth": 3.5},
          "encoding": {
            "x": {"field": "t", "type": "quantitative", "scale": {"domain": [-8.2, 46.8], "range": [343.5, 1056.5], "nice": false, "zero": false}, "axis": null},
            "y": {"field": "r", "type": "quantitative", "scale": {"domain": [-0.1, 0.2], "range": [696, 275], "nice": false, "zero": false}, "axis": null},
            "x2": {"field": "t2"},
            "y2": {"field": "r2"}
          }
        },
        {
          "data": {"name": "insetArrows"},
          "transform": [{"calculate": "atan2((datum.t2 - datum.t) * 12.964, (datum.r2 - datum.r) * 1403.3) * 180 / PI", "as": "heading"}],
          "mark": {"type": "point", "shape": "M0,0L-0.4,1L0.4,1Z", "filled": true, "color": "#ff0000", "size": 1500, "opacity": 1},
          "encoding": {
            "x": {"field": "t2", "type": "quantitative", "scale": {"domain": [-8.2, 46.8], "range": [343.5, 1056.5], "nice": false, "zero": false}, "axis": null},
            "y": {"field": "r2", "type": "quantitative", "scale": {"domain": [-0.1, 0.2], "range": [696, 275], "nice": false, "zero": false}, "axis": null},
            "angle": {"field": "heading", "type": "quantitative", "scale": null}
          }
        },
        {
          "data": {"name": "insetLabels"},
          "mark": {"type": "text", "font": "Liberation Sans", "fontWeight": "bold", "fontStyle": "italic", "fontSize": 26, "color": "#ffff00", "align": "center", "baseline": "alphabetic"},
          "encoding": {
            "x": {"field": "t", "type": "quantitative", "scale": {"domain": [-8.2, 46.8], "range": [343.5, 1056.5], "nice": false, "zero": false}, "axis": null},
            "y": {"field": "r", "type": "quantitative", "scale": {"domain": [-0.1, 0.2], "range": [696, 275], "nice": false, "zero": false}, "axis": null},
            "text": {"field": "label"}
          }
        },
        {
          "data": {"name": "insetTitle"},
          "mark": {"type": "text", "font": "Liberation Sans", "fontWeight": "bold", "fontStyle": "italic", "fontSize": 35, "color": "#ff0000", "align": "center", "baseline": "alphabetic"},
          "encoding": {
            "x": {"field": "t", "type": "quantitative", "scale": {"domain": [-8.2, 46.8], "range": [343.5, 1056.5], "nice": false, "zero": false}, "axis": null},
            "y": {"field": "r", "type": "quantitative", "scale": {"domain": [-0.1, 0.2], "range": [696, 275], "nice": false, "zero": false}, "axis": null},
            "text": {"field": "label"}
          }
        }
      ]
    },
    {
      "data": {"name": "inset"},
      "mark": {"type": "point", "opacity": 0},
      "encoding": {
        "x": {"field": "t", "type": "quantitative",
          "scale": {"domain": [-8.2, 46.8], "range": [343.5, 1056.5], "nice": false, "zero": false},
          "axis": {"orient": "bottom", "offset": -305,
            "values": [-8,-7,-6,-5,-4,-3,-2,-1,0,1,2,3,4,5,6,7,8,9,10,11,12,13,14,15,16,17,18,19,20,21,22,23,24,25,26,27,28,29,30,31,32,33,34,35,36,37,38,39,40,41,42,43,44,45,46],
            "tickSize": {"condition": {"test": "datum.value % 10 === 0", "value": -8.5}, "value": -4.2},
            "labelExpr": "datum.value % 10 === 0 ? datum.label : ''",
            "labelPadding": 26, "labelFlush": false,
            "labelFont": "DejaVu Sans", "labelFontSize": 21, "labelColor": "#ffffff",
            "domainColor": "#ffffff", "domainWidth": 2, "tickColor": "#ffffff", "tickWidth": 2,
            "title": "Theta Z", "titleFont": "DejaVu Sans", "titleFontSize": 21, "titleFontWeight": "normal", "titleColor": "#ffffff",
            "titleBaseline": "alphabetic", "titleX": 700, "titleY": 63, "zindex": 1}},
        "y": {"field": "r", "type": "quantitative",
          "scale": {"domain": [-0.1, 0.2], "range": [696, 275], "nice": false, "zero": false},
          "axis": {"orient": "left", "offset": -343.5,
            "values": [-0.1,-0.09,-0.08,-0.07,-0.06,-0.05,-0.04,-0.03,-0.02,-0.01,0,0.01,0.02,0.03,0.04,0.05,0.06,0.07,0.08,0.09,0.1,0.11,0.12,0.13,0.14,0.15,0.16,0.17,0.18,0.19,0.2],
            "tickSize": {"condition": {"test": "abs(round(datum.value * 100)) % 5 === 0", "value": -14}, "value": -7},
            "format": ".2f",
            "labelExpr": "abs(round(datum.value * 100)) % 5 === 0 ? datum.label : ''",
            "labelPadding": 21, "labelFlush": true,
            "labelFont": "DejaVu Sans", "labelFontSize": 21, "labelColor": "#ffffff",
            "domainColor": "#ffffff", "domainWidth": 2, "tickColor": "#ffffff", "tickWidth": 2,
            "title": "Rate", "titleFont": "DejaVu Sans", "titleFontSize": 21, "titleFontWeight": "normal", "titleColor": "#ffffff",
            "titleBaseline": "alphabetic", "titleX": -91.5, "titleY": 485.5, "zindex": 1}}
      }
    },
    {
      "data": {"name": "inset"},
      "mark": {"type": "point", "opacity": 0},
      "encoding": {
        "x": {"field": "t", "type": "quantitative",
          "scale": {"domain": [-8.2, 46.8], "range": [343.5, 1056.5], "nice": false, "zero": false},
          "axis": {"orient": "top", "offset": -275,
            "values": [-8,-7,-6,-5,-4,-3,-2,-1,0,1,2,3,4,5,6,7,8,9,10,11,12,13,14,15,16,17,18,19,20,21,22,23,24,25,26,27,28,29,30,31,32,33,34,35,36,37,38,39,40,41,42,43,44,45,46],
            "tickSize": {"condition": {"test": "datum.value % 10 === 0", "value": -8.5}, "value": -4.2},
            "labels": false, "title": null,
            "domainColor": "#ffffff", "domainWidth": 2, "tickColor": "#ffffff", "tickWidth": 2, "zindex": 1}},
        "y": {"field": "r", "type": "quantitative",
          "scale": {"domain": [-0.1, 0.2], "range": [696, 275], "nice": false, "zero": false},
          "axis": {"orient": "right", "offset": -204.5,
            "values": [-0.1,-0.09,-0.08,-0.07,-0.06,-0.05,-0.04,-0.03,-0.02,-0.01,0,0.01,0.02,0.03,0.04,0.05,0.06,0.07,0.08,0.09,0.1,0.11,0.12,0.13,0.14,0.15,0.16,0.17,0.18,0.19,0.2],
            "tickSize": {"condition": {"test": "abs(round(datum.value * 100)) % 5 === 0", "value": -14}, "value": -7},
            "labels": false, "title": null,
            "domainColor": "#ffffff", "domainWidth": 2, "tickColor": "#ffffff", "tickWidth": 2, "zindex": 1}}
      }
    }
  ],
  "resolve": {
    "scale": {"x": "independent", "y": "independent"},
    "axis": {"x": "independent", "y": "independent"}
  }
}
